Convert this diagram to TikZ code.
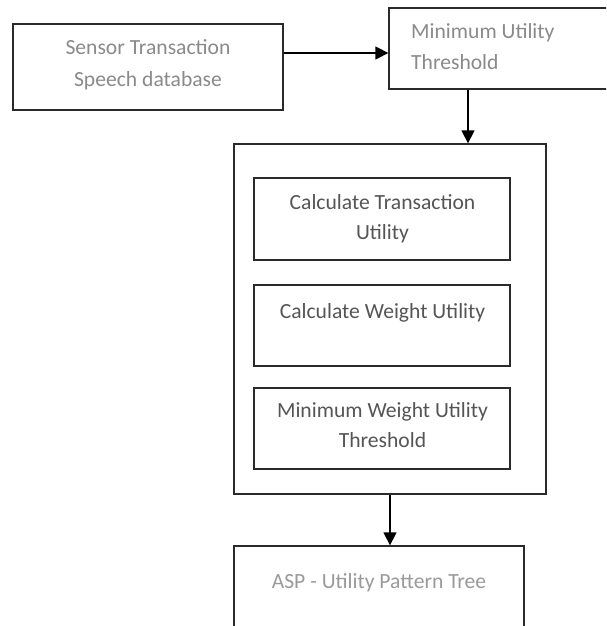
\documentclass[tikz,border=0pt]{standalone}
\usepackage{fontspec}
\setmainfont{Carlito}
\usetikzlibrary{arrows.meta}
\definecolor{txtlight}{HTML}{8A8A8A}
\definecolor{txtmid}{HTML}{555555}
\definecolor{txtpale}{HTML}{9A9A9A}
\definecolor{edge}{HTML}{2A2A2A}
\tikzset{
  box/.style={draw=edge, line width=1.3pt, rectangle, inner sep=0pt},
  txt/.style={inner sep=0pt, anchor=base, font=\fontsize{21.6}{30}\selectfont},
  arr/.style={draw=black, line width=1.4pt, -{Triangle[length=13pt,width=13pt]}}
}
\begin{document}
\begin{tikzpicture}[x=1pt,y=-1pt]
\path[use as bounding box] (0,0) rectangle (606,626);
\fill[white] (0,0) rectangle (606,626);
\clip (0,0) rectangle (606,626);
% outer boxes
\node[box, minimum width=270pt, minimum height=86pt] (A) at (148,67) {};
\node[box, minimum width=224pt, minimum height=81pt] (B) at (501,48.5) {};
\node[box, minimum width=312pt, minimum height=350pt] (C) at (390,319) {};
\node[box, minimum width=256pt, minimum height=82pt] (C1) at (382,219) {};
\node[box, minimum width=256pt, minimum height=81pt] (C2) at (382,325.5) {};
\node[box, minimum width=256pt, minimum height=81pt] (C3) at (382,428.5) {};
\node[box, minimum width=290pt, minimum height=100pt] (D) at (379,596) {};
% texts
\node[txt, text=txtlight] (a1) at (148,55) {Sensor Transaction};
\node[txt, text=txtlight] (a2) at (148,86) {Speech database};
\node[txt, text=txtlight, anchor=base west] (b1) at (411,39) {Minimum Utility};
\node[txt, text=txtlight, anchor=base west] (b2) at (411,70) {Threshold};
\node[txt, text=txtmid] (c11) at (382.5,209) {Calculate Transaction};
\node[txt, text=txtmid] (c12) at (382.5,239) {Utility};
\node[txt, text=txtmid] (c21) at (382.5,318) {Calculate Weight Utility};
\node[txt, text=txtmid] (c31) at (382.5,417) {Minimum Weight Utility};
\node[txt, text=txtmid] (c32) at (382.5,447) {Threshold};
\node[txt, text=txtpale] (d1) at (379,588) {ASP - Utility Pattern Tree};
% connectors
\draw[arr] ([yshift=14pt]A.east) -- ([yshift=14pt]A.east -| B.west);
\draw[arr] ([xshift=-33pt]B.south) -- ([xshift=-33pt]B.south |- C.north);
\draw[arr] (C.south) -- (C.south |- D.north);
\end{tikzpicture}
\end{document}
